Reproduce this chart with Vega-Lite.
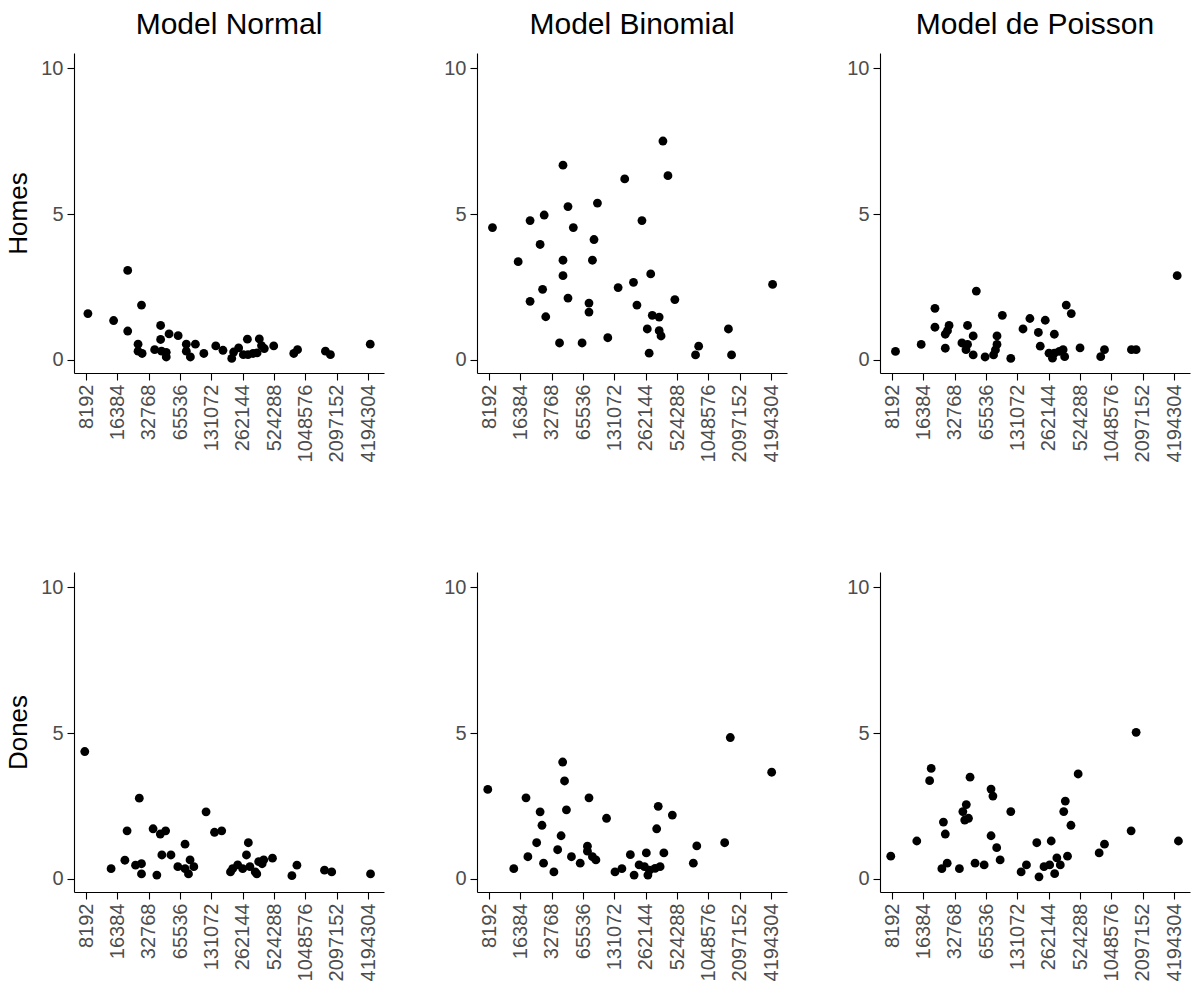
{
  "$schema": "https://vega.github.io/schema/vega-lite/v6.json",
  "background": "white",
  "padding": {"left": 5, "top": 10, "right": 5, "bottom": 5},
  "config": {
    "view": {"stroke": null},
    "font": "Liberation Sans",
    "axis": {"grid": false, "domainColor": "black", "domainWidth": 1.1, "tickColor": "black", "tickWidth": 1.1, "tickSize": 7, "labelColor": "#4D4D4D", "labelFont": "Liberation Sans", "labelFontSize": 20, "labelPadding": 4, "titleFont": "Liberation Sans", "titleFontSize": 26, "titleFontWeight": "normal", "titleColor": "black", "titlePadding": 9, "labelFlush": false, "labelOverlap": false},
    "title": {"font": "Liberation Sans", "fontSize": 30, "fontWeight": "normal", "color": "black", "anchor": "middle", "offset": 13, "baseline": "alphabetic"}
  },
  "data": {"values": [
    {"model":"Normal","sex":"Homes","size":8540,"value":1.59},
    {"model":"Normal","sex":"Homes","size":15078,"value":1.35},
    {"model":"Normal","sex":"Homes","size":20595,"value":3.07},
    {"model":"Normal","sex":"Homes","size":20595,"value":0.99},
    {"model":"Normal","sex":"Homes","size":27943,"value":1.88},
    {"model":"Normal","sex":"Homes","size":25891,"value":0.54},
    {"model":"Normal","sex":"Homes","size":25891,"value":0.30},
    {"model":"Normal","sex":"Homes","size":28331,"value":0.22},
    {"model":"Normal","sex":"Homes","size":37382,"value":0.35},
    {"model":"Normal","sex":"Homes","size":42648,"value":1.18},
    {"model":"Normal","sex":"Homes","size":42648,"value":0.70},
    {"model":"Normal","sex":"Homes","size":43539,"value":0.30},
    {"model":"Normal","sex":"Homes","size":48310,"value":0.26},
    {"model":"Normal","sex":"Homes","size":48310,"value":0.10},
    {"model":"Normal","sex":"Homes","size":51420,"value":0.89},
    {"model":"Normal","sex":"Homes","size":62865,"value":0.83},
    {"model":"Normal","sex":"Homes","size":75281,"value":0.54},
    {"model":"Normal","sex":"Homes","size":75281,"value":0.30},
    {"model":"Normal","sex":"Homes","size":82392,"value":0.10},
    {"model":"Normal","sex":"Homes","size":92058,"value":0.54},
    {"model":"Normal","sex":"Homes","size":110966,"value":0.22},
    {"model":"Normal","sex":"Homes","size":144456,"value":0.48},
    {"model":"Normal","sex":"Homes","size":169398,"value":0.33},
    {"model":"Normal","sex":"Homes","size":205678,"value":0.05},
    {"model":"Normal","sex":"Homes","size":214395,"value":0.27},
    {"model":"Normal","sex":"Homes","size":239600,"value":0.41},
    {"model":"Normal","sex":"Homes","size":265814,"value":0.18},
    {"model":"Normal","sex":"Homes","size":290875,"value":0.71},
    {"model":"Normal","sex":"Homes","size":294948,"value":0.18},
    {"model":"Normal","sex":"Homes","size":329567,"value":0.22},
    {"model":"Normal","sex":"Homes","size":360527,"value":0.24},
    {"model":"Normal","sex":"Homes","size":378500,"value":0.72},
    {"model":"Normal","sex":"Homes","size":397331,"value":0.49},
    {"model":"Normal","sex":"Homes","size":422948,"value":0.39},
    {"model":"Normal","sex":"Homes","size":520666,"value":0.48},
    {"model":"Normal","sex":"Homes","size":811499,"value":0.22},
    {"model":"Normal","sex":"Homes","size":881749,"value":0.35},
    {"model":"Normal","sex":"Homes","size":1634206,"value":0.30},
    {"model":"Normal","sex":"Homes","size":1825700,"value":0.18},
    {"model":"Normal","sex":"Homes","size":4402780,"value":0.54},

    {"model":"Binomial","sex":"Homes","size":8842,"value":4.54},
    {"model":"Binomial","sex":"Homes","size":15610,"value":3.37},
    {"model":"Binomial","sex":"Homes","size":20313,"value":4.78},
    {"model":"Binomial","sex":"Homes","size":20313,"value":2.01},
    {"model":"Binomial","sex":"Homes","size":25359,"value":3.96},
    {"model":"Binomial","sex":"Homes","size":27750,"value":4.97},
    {"model":"Binomial","sex":"Homes","size":26802,"value":2.42},
    {"model":"Binomial","sex":"Homes","size":28728,"value":1.48},
    {"model":"Binomial","sex":"Homes","size":42055,"value":6.68},
    {"model":"Binomial","sex":"Homes","size":42055,"value":3.42},
    {"model":"Binomial","sex":"Homes","size":42055,"value":2.89},
    {"model":"Binomial","sex":"Homes","size":38968,"value":0.58},
    {"model":"Binomial","sex":"Homes","size":46989,"value":5.26},
    {"model":"Binomial","sex":"Homes","size":46989,"value":2.12},
    {"model":"Binomial","sex":"Homes","size":52861,"value":4.54},
    {"model":"Binomial","sex":"Homes","size":64170,"value":0.58},
    {"model":"Binomial","sex":"Homes","size":74763,"value":1.95},
    {"model":"Binomial","sex":"Homes","size":74763,"value":1.64},
    {"model":"Binomial","sex":"Homes","size":80681,"value":3.42},
    {"model":"Binomial","sex":"Homes","size":83532,"value":4.13},
    {"model":"Binomial","sex":"Homes","size":90132,"value":5.38},
    {"model":"Binomial","sex":"Homes","size":113325,"value":0.76},
    {"model":"Binomial","sex":"Homes","size":142449,"value":2.48},
    {"model":"Binomial","sex":"Homes","size":164757,"value":6.21},
    {"model":"Binomial","sex":"Homes","size":200055,"value":2.66},
    {"model":"Binomial","sex":"Homes","size":215903,"value":1.88},
    {"model":"Binomial","sex":"Homes","size":241225,"value":4.78},
    {"model":"Binomial","sex":"Homes","size":271398,"value":1.06},
    {"model":"Binomial","sex":"Homes","size":282928,"value":0.23},
    {"model":"Binomial","sex":"Homes","size":292893,"value":2.95},
    {"model":"Binomial","sex":"Homes","size":303222,"value":1.53},
    {"model":"Binomial","sex":"Homes","size":353160,"value":1.47},
    {"model":"Binomial","sex":"Homes","size":353160,"value":1.00},
    {"model":"Binomial","sex":"Homes","size":368155,"value":0.82},
    {"model":"Binomial","sex":"Homes","size":383805,"value":7.51},
    {"model":"Binomial","sex":"Homes","size":428815,"value":6.32},
    {"model":"Binomial","sex":"Homes","size":499465,"value":2.07},
    {"model":"Binomial","sex":"Homes","size":789159,"value":0.17},
    {"model":"Binomial","sex":"Homes","size":845886,"value":0.47},
    {"model":"Binomial","sex":"Homes","size":1634206,"value":1.06},
    {"model":"Binomial","sex":"Homes","size":1751440,"value":0.17},
    {"model":"Binomial","sex":"Homes","size":4342363,"value":2.59},

    {"model":"Poisson","sex":"Homes","size":8842,"value":0.29},
    {"model":"Poisson","sex":"Homes","size":15610,"value":0.53},
    {"model":"Poisson","sex":"Homes","size":21168,"value":1.77},
    {"model":"Poisson","sex":"Homes","size":21168,"value":1.12},
    {"model":"Poisson","sex":"Homes","size":26616,"value":0.40},
    {"model":"Poisson","sex":"Homes","size":26616,"value":0.88},
    {"model":"Poisson","sex":"Homes","size":27943,"value":1.00},
    {"model":"Poisson","sex":"Homes","size":28924,"value":1.18},
    {"model":"Poisson","sex":"Homes","size":38434,"value":0.58},
    {"model":"Poisson","sex":"Homes","size":42055,"value":0.35},
    {"model":"Poisson","sex":"Homes","size":43539,"value":0.53},
    {"model":"Poisson","sex":"Homes","size":43539,"value":1.18},
    {"model":"Poisson","sex":"Homes","size":49322,"value":0.82},
    {"model":"Poisson","sex":"Homes","size":49322,"value":0.17},
    {"model":"Poisson","sex":"Homes","size":52861,"value":2.36},
    {"model":"Poisson","sex":"Homes","size":64170,"value":0.10},
    {"model":"Poisson","sex":"Homes","size":77398,"value":0.17},
    {"model":"Poisson","sex":"Homes","size":80681,"value":0.34},
    {"model":"Poisson","sex":"Homes","size":83532,"value":0.53},
    {"model":"Poisson","sex":"Homes","size":83532,"value":0.82},
    {"model":"Poisson","sex":"Homes","size":93979,"value":1.53},
    {"model":"Poisson","sex":"Homes","size":113325,"value":0.05},
    {"model":"Poisson","sex":"Homes","size":148493,"value":1.06},
    {"model":"Poisson","sex":"Homes","size":172950,"value":1.42},
    {"model":"Poisson","sex":"Homes","size":208549,"value":0.94},
    {"model":"Poisson","sex":"Homes","size":217436,"value":0.47},
    {"model":"Poisson","sex":"Homes","size":242917,"value":1.36},
    {"model":"Poisson","sex":"Homes","size":263979,"value":0.23},
    {"model":"Poisson","sex":"Homes","size":284898,"value":0.06},
    {"model":"Poisson","sex":"Homes","size":296985,"value":0.88},
    {"model":"Poisson","sex":"Homes","size":296985,"value":0.23},
    {"model":"Poisson","sex":"Homes","size":331822,"value":0.29},
    {"model":"Poisson","sex":"Homes","size":360527,"value":0.35},
    {"model":"Poisson","sex":"Homes","size":373319,"value":0.11},
    {"model":"Poisson","sex":"Homes","size":386479,"value":1.88},
    {"model":"Poisson","sex":"Homes","size":431803,"value":1.59},
    {"model":"Poisson","sex":"Homes","size":524288,"value":0.41},
    {"model":"Poisson","sex":"Homes","size":828375,"value":0.11},
    {"model":"Poisson","sex":"Homes","size":900323,"value":0.35},
    {"model":"Poisson","sex":"Homes","size":1634206,"value":0.35},
    {"model":"Poisson","sex":"Homes","size":1813100,"value":0.35},
    {"model":"Poisson","sex":"Homes","size":4495455,"value":2.89},

    {"model":"Normal","sex":"Dones","size":7968,"value":4.37},
    {"model":"Normal","sex":"Dones","size":14263,"value":0.35},
    {"model":"Normal","sex":"Dones","size":19350,"value":0.64},
    {"model":"Normal","sex":"Dones","size":20313,"value":1.65},
    {"model":"Normal","sex":"Dones","size":24491,"value":0.47},
    {"model":"Normal","sex":"Dones","size":26616,"value":2.77},
    {"model":"Normal","sex":"Dones","size":27943,"value":0.52},
    {"model":"Normal","sex":"Dones","size":27943,"value":0.17},
    {"model":"Normal","sex":"Dones","size":36114,"value":1.72},
    {"model":"Normal","sex":"Dones","size":39240,"value":0.13},
    {"model":"Normal","sex":"Dones","size":42350,"value":1.54},
    {"model":"Normal","sex":"Dones","size":43840,"value":0.82},
    {"model":"Normal","sex":"Dones","size":47645,"value":1.65},
    {"model":"Normal","sex":"Dones","size":53602,"value":0.82},
    {"model":"Normal","sex":"Dones","size":62433,"value":0.42},
    {"model":"Normal","sex":"Dones","size":73224,"value":1.19},
    {"model":"Normal","sex":"Dones","size":73224,"value":0.35},
    {"model":"Normal","sex":"Dones","size":79023,"value":0.17},
    {"model":"Normal","sex":"Dones","size":81808,"value":0.65},
    {"model":"Normal","sex":"Dones","size":88906,"value":0.42},
    {"model":"Normal","sex":"Dones","size":116504,"value":2.30},
    {"model":"Normal","sex":"Dones","size":140483,"value":1.60},
    {"model":"Normal","sex":"Dones","size":164757,"value":1.65},
    {"model":"Normal","sex":"Dones","size":200055,"value":0.24},
    {"model":"Normal","sex":"Dones","size":209990,"value":0.35},
    {"model":"Normal","sex":"Dones","size":234619,"value":0.48},
    {"model":"Normal","sex":"Dones","size":262144,"value":0.35},
    {"model":"Normal","sex":"Dones","size":284898,"value":0.82},
    {"model":"Normal","sex":"Dones","size":296985,"value":1.24},
    {"model":"Normal","sex":"Dones","size":307443,"value":0.42},
    {"model":"Normal","sex":"Dones","size":345899,"value":0.24},
    {"model":"Normal","sex":"Dones","size":358089,"value":0.17},
    {"model":"Normal","sex":"Dones","size":373319,"value":0.59},
    {"model":"Normal","sex":"Dones","size":402889,"value":0.52},
    {"model":"Normal","sex":"Dones","size":417103,"value":0.65},
    {"model":"Normal","sex":"Dones","size":506436,"value":0.71},
    {"model":"Normal","sex":"Dones","size":778306,"value":0.11},
    {"model":"Normal","sex":"Dones","size":869742,"value":0.47},
    {"model":"Normal","sex":"Dones","size":1600440,"value":0.30},
    {"model":"Normal","sex":"Dones","size":1877060,"value":0.24},
    {"model":"Normal","sex":"Dones","size":4433379,"value":0.17},

    {"model":"Binomial","sex":"Dones","size":7968,"value":3.07},
    {"model":"Binomial","sex":"Dones","size":14165,"value":0.35},
    {"model":"Binomial","sex":"Dones","size":18561,"value":2.78},
    {"model":"Binomial","sex":"Dones","size":19350,"value":0.76},
    {"model":"Binomial","sex":"Dones","size":23495,"value":1.24},
    {"model":"Binomial","sex":"Dones","size":25359,"value":2.30},
    {"model":"Binomial","sex":"Dones","size":26434,"value":1.84},
    {"model":"Binomial","sex":"Dones","size":27364,"value":0.54},
    {"model":"Binomial","sex":"Dones","size":34397,"value":0.24},
    {"model":"Binomial","sex":"Dones","size":37382,"value":1.00},
    {"model":"Binomial","sex":"Dones","size":40341,"value":1.48},
    {"model":"Binomial","sex":"Dones","size":41766,"value":4.01},
    {"model":"Binomial","sex":"Dones","size":43539,"value":3.36},
    {"model":"Binomial","sex":"Dones","size":45387,"value":2.37},
    {"model":"Binomial","sex":"Dones","size":50712,"value":0.76},
    {"model":"Binomial","sex":"Dones","size":61571,"value":0.54},
    {"model":"Binomial","sex":"Dones","size":72229,"value":1.12},
    {"model":"Binomial","sex":"Dones","size":72229,"value":0.95},
    {"model":"Binomial","sex":"Dones","size":74763,"value":2.78},
    {"model":"Binomial","sex":"Dones","size":80681,"value":0.76},
    {"model":"Binomial","sex":"Dones","size":87078,"value":0.65},
    {"model":"Binomial","sex":"Dones","size":110218,"value":2.08},
    {"model":"Binomial","sex":"Dones","size":132907,"value":0.24},
    {"model":"Binomial","sex":"Dones","size":154796,"value":0.35},
    {"model":"Binomial","sex":"Dones","size":186660,"value":0.83},
    {"model":"Binomial","sex":"Dones","size":202847,"value":0.13},
    {"model":"Binomial","sex":"Dones","size":226637,"value":0.48},
    {"model":"Binomial","sex":"Dones","size":254975,"value":0.42},
    {"model":"Binomial","sex":"Dones","size":265814,"value":0.89},
    {"model":"Binomial","sex":"Dones","size":275173,"value":0.13},
    {"model":"Binomial","sex":"Dones","size":284898,"value":0.30},
    {"model":"Binomial","sex":"Dones","size":322726,"value":0.36},
    {"model":"Binomial","sex":"Dones","size":334129,"value":1.72},
    {"model":"Binomial","sex":"Dones","size":345899,"value":2.49},
    {"model":"Binomial","sex":"Dones","size":360527,"value":0.42},
    {"model":"Binomial","sex":"Dones","size":391853,"value":0.89},
    {"model":"Binomial","sex":"Dones","size":472515,"value":2.19},
    {"model":"Binomial","sex":"Dones","size":751829,"value":0.54},
    {"model":"Binomial","sex":"Dones","size":811499,"value":1.13},
    {"model":"Binomial","sex":"Dones","size":1503658,"value":1.24},
    {"model":"Binomial","sex":"Dones","size":1703412,"value":4.85},
    {"model":"Binomial","sex":"Dones","size":4253024,"value":3.66},

    {"model":"Poisson","sex":"Dones","size":7968,"value":0.78},
    {"model":"Poisson","sex":"Dones","size":14165,"value":1.30},
    {"model":"Poisson","sex":"Dones","size":18820,"value":3.37},
    {"model":"Poisson","sex":"Dones","size":19484,"value":3.79},
    {"model":"Poisson","sex":"Dones","size":24661,"value":0.35},
    {"model":"Poisson","sex":"Dones","size":25534,"value":1.95},
    {"model":"Poisson","sex":"Dones","size":26616,"value":1.54},
    {"model":"Poisson","sex":"Dones","size":27750,"value":0.54},
    {"model":"Poisson","sex":"Dones","size":36360,"value":0.35},
    {"model":"Poisson","sex":"Dones","size":39240,"value":2.31},
    {"model":"Poisson","sex":"Dones","size":40905,"value":2.02},
    {"model":"Poisson","sex":"Dones","size":42350,"value":2.55},
    {"model":"Poisson","sex":"Dones","size":44453,"value":2.08},
    {"model":"Poisson","sex":"Dones","size":46020,"value":3.49},
    {"model":"Poisson","sex":"Dones","size":51420,"value":0.54},
    {"model":"Poisson","sex":"Dones","size":62865,"value":0.48},
    {"model":"Poisson","sex":"Dones","size":73224,"value":3.08},
    {"model":"Poisson","sex":"Dones","size":76330,"value":2.84},
    {"model":"Poisson","sex":"Dones","size":73224,"value":1.48},
    {"model":"Poisson","sex":"Dones","size":82956,"value":1.07},
    {"model":"Poisson","sex":"Dones","size":89522,"value":0.65},
    {"model":"Poisson","sex":"Dones","size":113325,"value":2.31},
    {"model":"Poisson","sex":"Dones","size":142449,"value":0.24},
    {"model":"Poisson","sex":"Dones","size":160247,"value":0.48},
    {"model":"Poisson","sex":"Dones","size":201447,"value":1.24},
    {"model":"Poisson","sex":"Dones","size":211468,"value":0.07},
    {"model":"Poisson","sex":"Dones","size":236258,"value":0.42},
    {"model":"Poisson","sex":"Dones","size":267649,"value":0.48},
    {"model":"Poisson","sex":"Dones","size":277086,"value":1.30},
    {"model":"Poisson","sex":"Dones","size":299054,"value":0.18},
    {"model":"Poisson","sex":"Dones","size":313917,"value":0.72},
    {"model":"Poisson","sex":"Dones","size":338690,"value":0.48},
    {"model":"Poisson","sex":"Dones","size":365612,"value":2.31},
    {"model":"Poisson","sex":"Dones","size":378500,"value":2.67},
    {"model":"Poisson","sex":"Dones","size":397331,"value":0.78},
    {"model":"Poisson","sex":"Dones","size":428815,"value":1.84},
    {"model":"Poisson","sex":"Dones","size":502923,"value":3.60},
    {"model":"Poisson","sex":"Dones","size":800221,"value":0.89},
    {"model":"Poisson","sex":"Dones","size":900323,"value":1.19},
    {"model":"Poisson","sex":"Dones","size":1622986,"value":1.65},
    {"model":"Poisson","sex":"Dones","size":1813100,"value":5.03},
    {"model":"Poisson","sex":"Dones","size":4621704,"value":1.30}
  ]},
  "columns": 3,
  "spacing": {"row": 199, "column": 93},
  "bounds": "flush",
  "concat": [
    {
      "width": 310, "height": 320,
      "title": "Model Normal",
      "transform": [{"filter": "datum.model === 'Normal' && datum.sex === 'Homes'"}],
      "mark": {"type": "circle", "size": 78, "color": "black", "opacity": 1},
      "encoding": {
        "x": {"field": "size", "type": "quantitative", "scale": {"type": "log", "base": 2, "domain": [6278, 5970000], "nice": false, "zero": false}, "axis": {"values": [8192,16384,32768,65536,131072,262144,524288,1048576,2097152,4194304], "format": "d", "labelAngle": -90, "title": null}},
        "y": {"field": "value", "type": "quantitative", "scale": {"domain": [-0.45, 10.53], "nice": false, "zero": false}, "axis": {"values": [0,5,10], "title": "Homes"}}
      }
    },
    {
      "width": 310, "height": 320,
      "title": "Model Binomial",
      "transform": [{"filter": "datum.model === 'Binomial' && datum.sex === 'Homes'"}],
      "mark": {"type": "circle", "size": 78, "color": "black", "opacity": 1},
      "encoding": {
        "x": {"field": "size", "type": "quantitative", "scale": {"type": "log", "base": 2, "domain": [6278, 5970000], "nice": false, "zero": false}, "axis": {"values": [8192,16384,32768,65536,131072,262144,524288,1048576,2097152,4194304], "format": "d", "labelAngle": -90, "title": null}},
        "y": {"field": "value", "type": "quantitative", "scale": {"domain": [-0.45, 10.53], "nice": false, "zero": false}, "axis": {"values": [0,5,10], "title": null}}
      }
    },
    {
      "width": 310, "height": 320,
      "title": "Model de Poisson",
      "transform": [{"filter": "datum.model === 'Poisson' && datum.sex === 'Homes'"}],
      "mark": {"type": "circle", "size": 78, "color": "black", "opacity": 1},
      "encoding": {
        "x": {"field": "size", "type": "quantitative", "scale": {"type": "log", "base": 2, "domain": [6278, 5970000], "nice": false, "zero": false}, "axis": {"values": [8192,16384,32768,65536,131072,262144,524288,1048576,2097152,4194304], "format": "d", "labelAngle": -90, "title": null}},
        "y": {"field": "value", "type": "quantitative", "scale": {"domain": [-0.45, 10.53], "nice": false, "zero": false}, "axis": {"values": [0,5,10], "title": null}}
      }
    },
    {
      "width": 310, "height": 320,
      "transform": [{"filter": "datum.model === 'Normal' && datum.sex === 'Dones'"}],
      "mark": {"type": "circle", "size": 78, "color": "black", "opacity": 1},
      "encoding": {
        "x": {"field": "size", "type": "quantitative", "scale": {"type": "log", "base": 2, "domain": [6278, 5970000], "nice": false, "zero": false}, "axis": {"values": [8192,16384,32768,65536,131072,262144,524288,1048576,2097152,4194304], "format": "d", "labelAngle": -90, "title": null}},
        "y": {"field": "value", "type": "quantitative", "scale": {"domain": [-0.45, 10.53], "nice": false, "zero": false}, "axis": {"values": [0,5,10], "title": "Dones"}}
      }
    },
    {
      "width": 310, "height": 320,
      "transform": [{"filter": "datum.model === 'Binomial' && datum.sex === 'Dones'"}],
      "mark": {"type": "circle", "size": 78, "color": "black", "opacity": 1},
      "encoding": {
        "x": {"field": "size", "type": "quantitative", "scale": {"type": "log", "base": 2, "domain": [6278, 5970000], "nice": false, "zero": false}, "axis": {"values": [8192,16384,32768,65536,131072,262144,524288,1048576,2097152,4194304], "format": "d", "labelAngle": -90, "title": null}},
        "y": {"field": "value", "type": "quantitative", "scale": {"domain": [-0.45, 10.53], "nice": false, "zero": false}, "axis": {"values": [0,5,10], "title": null}}
      }
    },
    {
      "width": 310, "height": 320,
      "transform": [{"filter": "datum.model === 'Poisson' && datum.sex === 'Dones'"}],
      "mark": {"type": "circle", "size": 78, "color": "black", "opacity": 1},
      "encoding": {
        "x": {"field": "size", "type": "quantitative", "scale": {"type": "log", "base": 2, "domain": [6278, 5970000], "nice": false, "zero": false}, "axis": {"values": [8192,16384,32768,65536,131072,262144,524288,1048576,2097152,4194304], "format": "d", "labelAngle": -90, "title": null}},
        "y": {"field": "value", "type": "quantitative", "scale": {"domain": [-0.45, 10.53], "nice": false, "zero": false}, "axis": {"values": [0,5,10], "title": null}}
      }
    }
  ]
}
